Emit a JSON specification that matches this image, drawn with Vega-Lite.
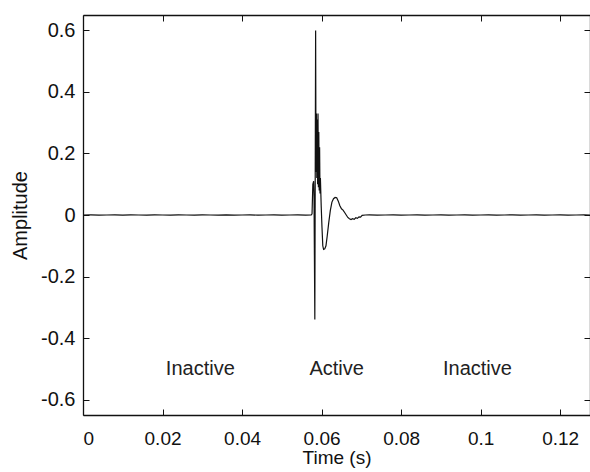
{
  "$schema": "https://vega.github.io/schema/vega-lite/v6.json",
  "autosize": {"type": "none"},
  "padding": {"left": 83, "top": 15, "right": 0, "bottom": 57},
  "width": 507,
  "height": 400,
  "background": "white",
  "config": {
    "view": {"stroke": null},
    "font": "Liberation Sans",
    "axis": {
      "domainColor": "#111", "domainWidth": 1.3, "tickColor": "#111", "grid": false,
      "labelFont": "Liberation Sans", "labelFontSize": 20, "labelColor": "#111",
      "titleFont": "Liberation Sans", "titleFontSize": 20, "titleFontWeight": "normal", "titleColor": "#111",
      "tickSize": -6, "tickWidth": 1
    }
  },
  "datasets": {
    "signal": [
      {"t": 0.000, "a": 0.000}, {"t": 0.002, "a": 0.0005}, {"t": 0.004, "a": -0.0005}, {"t": 0.006, "a": 0.000},
      {"t": 0.008, "a": 0.0005}, {"t": 0.010, "a": -0.0005}, {"t": 0.012, "a": 0.0005}, {"t": 0.014, "a": 0.000},
      {"t": 0.016, "a": -0.0005}, {"t": 0.018, "a": 0.0005}, {"t": 0.020, "a": 0.000}, {"t": 0.022, "a": -0.0005},
      {"t": 0.024, "a": 0.0005}, {"t": 0.026, "a": 0.000}, {"t": 0.028, "a": -0.0005}, {"t": 0.030, "a": 0.0005},
      {"t": 0.032, "a": 0.000}, {"t": 0.034, "a": -0.0005}, {"t": 0.036, "a": 0.0005}, {"t": 0.038, "a": -0.0005},
      {"t": 0.040, "a": 0.000}, {"t": 0.042, "a": 0.0005}, {"t": 0.044, "a": -0.0005}, {"t": 0.046, "a": 0.000},
      {"t": 0.048, "a": 0.0005}, {"t": 0.050, "a": -0.0005}, {"t": 0.052, "a": 0.000}, {"t": 0.054, "a": 0.0005},
      {"t": 0.056, "a": -0.0005}, {"t": 0.0574, "a": 0.000}, {"t": 0.0576, "a": 0.004}, {"t": 0.0578, "a": 0.10},
      {"t": 0.0580, "a": 0.11}, {"t": 0.0581, "a": 0.06}, {"t": 0.0583, "a": -0.34}, {"t": 0.0585, "a": 0.60},
      {"t": 0.0586, "a": 0.14}, {"t": 0.0587, "a": 0.33}, {"t": 0.0588, "a": 0.12}, {"t": 0.0589, "a": 0.31},
      {"t": 0.0590, "a": 0.10}, {"t": 0.0591, "a": 0.33}, {"t": 0.0592, "a": 0.09}, {"t": 0.0593, "a": 0.27},
      {"t": 0.0594, "a": 0.08}, {"t": 0.0595, "a": 0.22}, {"t": 0.0596, "a": 0.07}, {"t": 0.0597, "a": 0.12},
      {"t": 0.0599, "a": 0.03}, {"t": 0.0601, "a": -0.04}, {"t": 0.0603, "a": -0.10}, {"t": 0.0605, "a": -0.112},
      {"t": 0.0608, "a": -0.11}, {"t": 0.0611, "a": -0.10}, {"t": 0.0614, "a": -0.07}, {"t": 0.0618, "a": -0.025},
      {"t": 0.0622, "a": 0.015}, {"t": 0.0626, "a": 0.042}, {"t": 0.0630, "a": 0.053}, {"t": 0.0634, "a": 0.057},
      {"t": 0.0638, "a": 0.056}, {"t": 0.0642, "a": 0.045}, {"t": 0.0646, "a": 0.03}, {"t": 0.0650, "a": 0.02},
      {"t": 0.0654, "a": 0.016}, {"t": 0.0658, "a": 0.008}, {"t": 0.0662, "a": 0.000}, {"t": 0.0666, "a": -0.008},
      {"t": 0.0670, "a": -0.012}, {"t": 0.0674, "a": -0.015}, {"t": 0.0678, "a": -0.012}, {"t": 0.0682, "a": -0.014},
      {"t": 0.0686, "a": -0.009}, {"t": 0.0690, "a": -0.011}, {"t": 0.0694, "a": -0.006}, {"t": 0.0698, "a": -0.007},
      {"t": 0.0702, "a": -0.001}, {"t": 0.0710, "a": 0.000}, {"t": 0.072, "a": 0.0005}, {"t": 0.074, "a": -0.0005},
      {"t": 0.076, "a": 0.000}, {"t": 0.078, "a": 0.0005}, {"t": 0.080, "a": -0.0005}, {"t": 0.082, "a": 0.000},
      {"t": 0.084, "a": 0.0005}, {"t": 0.086, "a": -0.0005}, {"t": 0.088, "a": 0.000}, {"t": 0.090, "a": 0.0005},
      {"t": 0.092, "a": -0.0005}, {"t": 0.094, "a": 0.000}, {"t": 0.096, "a": 0.0005}, {"t": 0.098, "a": -0.0005},
      {"t": 0.100, "a": 0.000}, {"t": 0.102, "a": 0.0005}, {"t": 0.104, "a": -0.0005}, {"t": 0.106, "a": 0.000},
      {"t": 0.108, "a": 0.0005}, {"t": 0.110, "a": -0.0005}, {"t": 0.112, "a": 0.000}, {"t": 0.114, "a": 0.0005},
      {"t": 0.116, "a": -0.0005}, {"t": 0.118, "a": 0.000}, {"t": 0.120, "a": 0.0005}, {"t": 0.122, "a": -0.0005},
      {"t": 0.124, "a": 0.000}, {"t": 0.126, "a": 0.0005}, {"t": 0.1275, "a": 0.000}
    ],
    "labels": [
      {"t": 0.0295, "a": -0.5, "label": "Inactive"},
      {"t": 0.0638, "a": -0.5, "label": "Active"},
      {"t": 0.0992, "a": -0.5, "label": "Inactive"}
    ]
  },
  "layer": [
    {
      "data": {"name": "signal"},
      "mark": {"type": "line", "color": "#111", "strokeWidth": 1.2, "clip": true},
      "encoding": {
        "x": {"field": "t", "type": "quantitative",
              "scale": {"domain": [0, 0.1275], "nice": false, "zero": false},
              "axis": {"title": "Time (s)", "values": [0, 0.02, 0.04, 0.06, 0.08, 0.1, 0.12],
                       "labelExpr": "'' + datum.value", "labelPadding": 20, "labelFontSize": 19,
                       "titleFontSize": 19, "titlePadding": 0}},
        "y": {"field": "a", "type": "quantitative",
              "scale": {"domain": [-0.65, 0.65], "nice": false, "zero": false},
              "axis": {"title": "Amplitude", "values": [-0.6, -0.4, -0.2, 0, 0.2, 0.4, 0.6],
                       "labelExpr": "'' + datum.value", "labelPadding": 14, "titlePadding": 10}}
      }
    },
    {
      "data": {"name": "labels"},
      "mark": {"type": "text", "fontSize": 20, "color": "#222", "font": "Liberation Sans", "align": "center", "baseline": "middle"},
      "encoding": {
        "x": {"field": "t", "type": "quantitative",
              "axis": {"orient": "top", "title": null, "labels": false, "values": [0, 0.02, 0.04, 0.06, 0.08, 0.1, 0.12]}},
        "y": {"field": "a", "type": "quantitative",
              "axis": {"orient": "right", "title": null, "labels": false, "values": [-0.6, -0.4, -0.2, 0, 0.2, 0.4, 0.6]}},
        "text": {"field": "label"}
      }
    }
  ],
  "resolve": {"axis": {"x": "independent", "y": "independent"}}
}
